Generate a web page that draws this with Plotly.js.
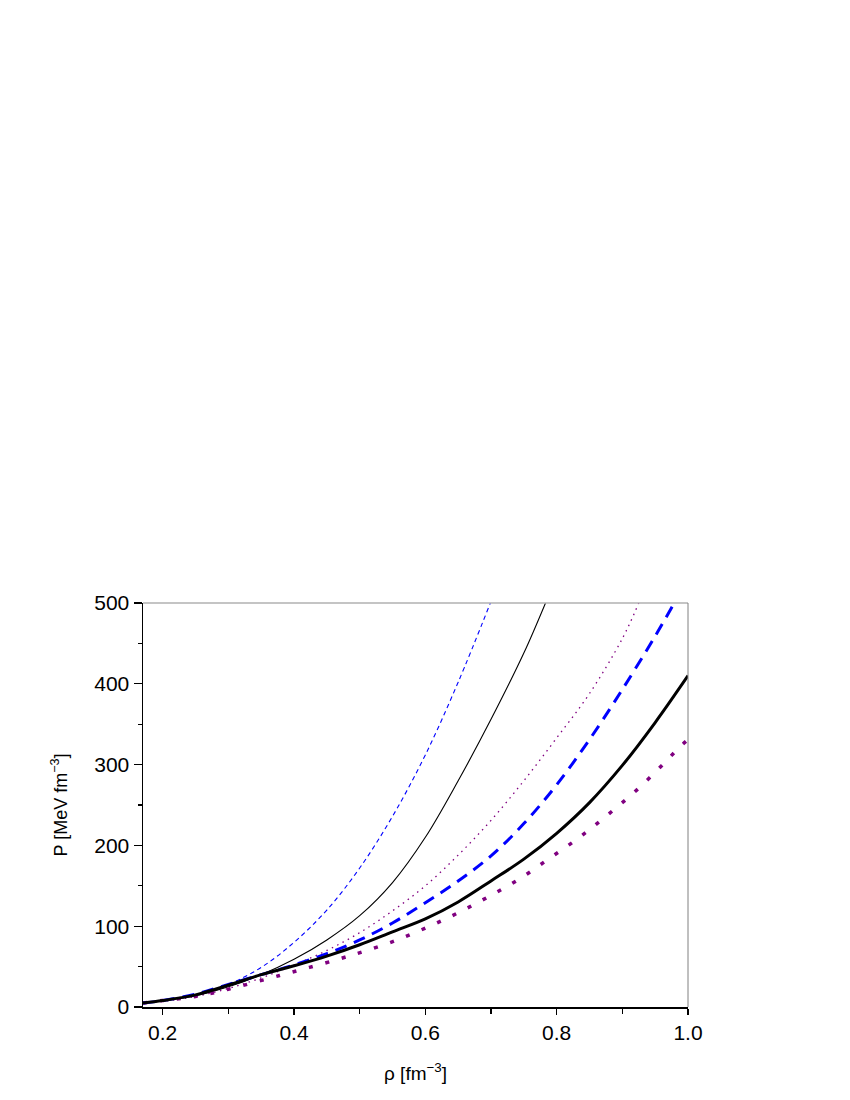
<!DOCTYPE html>
<html>
<head>
<meta charset="utf-8">
<script src="https://cdn.plot.ly/plotly-3.0.1.min.js"></script>
<style>
  body { margin: 0; background: #fff; }
  #plot { width: 850px; height: 1100px; }
</style>
</head>
<body>
<div id="plot"></div>
<script>
// thin blue dashed
var rhoA = [0.17, 0.2, 0.25, 0.3, 0.35, 0.4, 0.45, 0.5, 0.55, 0.6, 0.65, 0.699];
var pA = [5, 8, 15, 28, 49, 80, 120, 172, 236, 312, 402, 500];

// thin black solid
var rhoB = [0.17, 0.2, 0.25, 0.3, 0.35, 0.4, 0.45, 0.5, 0.55, 0.6, 0.65, 0.7, 0.75, 0.783];
var pB = [5, 8, 14, 25, 40, 59, 83, 113, 154, 210, 280, 356, 438, 500];

// thin purple dotted
var rhoC = [0.17, 0.2, 0.25, 0.3, 0.35, 0.4, 0.45, 0.5, 0.55, 0.6, 0.65, 0.7, 0.75, 0.8, 0.85, 0.9, 0.925];
var pC = [5, 7, 13, 23, 36, 52, 70, 92, 119, 150, 188, 231, 280, 333, 388, 456, 500];

// thick blue dashed
var rhoD = [0.17, 0.2, 0.25, 0.3, 0.35, 0.4, 0.45, 0.5, 0.55, 0.6, 0.65, 0.7, 0.75, 0.8, 0.85, 0.9, 0.95, 0.979];
var pD = [5, 8, 16, 28, 40, 52, 66, 83, 104, 129, 156, 187, 227, 275, 331, 393, 459, 500];

// thick black solid
var rhoE = [0.17, 0.2, 0.25, 0.3, 0.35, 0.4, 0.45, 0.5, 0.55, 0.6, 0.65, 0.7, 0.75, 0.8, 0.85, 0.9, 0.95, 1.0];
var pE = [5, 8, 15, 27, 40, 51, 63, 77, 93, 109, 130, 156, 183, 215, 253, 299, 352, 410];

// thick purple dots
var rhoF = [0.17, 0.2, 0.25, 0.3, 0.378, 0.4235, 0.471, 0.507, 0.554, 0.601, 0.6485, 0.695, 0.7423, 0.789, 0.8347, 0.8794, 0.9226, 0.964, 0.984, 1.0];
var pF = [5, 8, 13, 22, 39, 49, 60, 69, 82, 98, 116, 136, 158, 184, 210, 239, 269, 302, 319, 331];

var xTicks = [0.2, 0.4, 0.6, 0.8, 1.0];
var xTickText = ["0.2", "0.4", "0.6", "0.8", "1.0"];
var yTicks = [0, 100, 200, 300, 400, 500];

function curve(x, y, color, width, dash) {
  return {
    x: x, y: y, type: "scatter", mode: "lines", showlegend: false,
    line: {color: color, width: width, dash: dash, shape: "spline", smoothing: 1},
    hoverinfo: "skip"
  };
}

var data = [
  curve(rhoA, pA, "#0000ff", 1.1, "4.5px,3.5px"),
  curve(rhoB, pB, "#000000", 1.1, "solid"),
  curve(rhoC, pC, "#800080", 1.3, "1.5px,4.5px"),
  curve(rhoF, pF, "#800080", 3.5, "4px,13px"),
  curve(rhoD, pD, "#0000ff", 3, "12px,8px"),
  curve(rhoE, pE, "#000000", 3, "solid")
];

var font = "'Liberation Sans', Arial, sans-serif";

var layout = {
  width: 850, height: 1100,
  margin: {l: 143, r: 162, t: 603, b: 93},
  paper_bgcolor: "#fff", plot_bgcolor: "#fff",
  font: {family: font, color: "#000"},
  xaxis: {
    range: [0.17, 1.0],
    tickvals: xTicks, ticktext: xTickText,
    ticks: "outside", ticklen: 6, tickwidth: 1.2, tickcolor: "#000",
    minor: {tickvals: [0.3, 0.5, 0.7, 0.9], ticks: "outside", ticklen: 5, tickwidth: 1.2, tickcolor: "#000"},
    showline: true, linecolor: "#000", linewidth: 1.5,
    showgrid: false, zeroline: false,
    tickfont: {size: 21, family: font},
    title: {text: "ρ [fm<sup>−3</sup>]", font: {size: 19, family: font}, standoff: 24}
  },
  yaxis: {
    range: [0, 500],
    tickvals: yTicks,
    ticks: "outside", ticklen: 8, tickwidth: 1.2, tickcolor: "#000",
    minor: {tickvals: [50, 150, 250, 350, 450], ticks: "outside", ticklen: 4, tickwidth: 1.2, tickcolor: "#000"},
    showline: true, linecolor: "#000", linewidth: 1.5,
    showgrid: false, zeroline: false,
    tickfont: {size: 21, family: font},
    title: {text: "P [MeV fm<sup>−3</sup>]", font: {size: 18, family: font}, standoff: 22}
  },
  shapes: [
    {type: "line", xref: "paper", yref: "paper", x0: 0, x1: 1, y0: 1, y1: 1, line: {color: "#b0b0b0", width: 1.5}},
    {type: "line", xref: "paper", yref: "paper", x0: 1, x1: 1, y0: 0, y1: 1, line: {color: "#808080", width: 1}}
  ]
};

Plotly.newPlot("plot", data, layout, {staticPlot: true});
</script>
</body>
</html>
